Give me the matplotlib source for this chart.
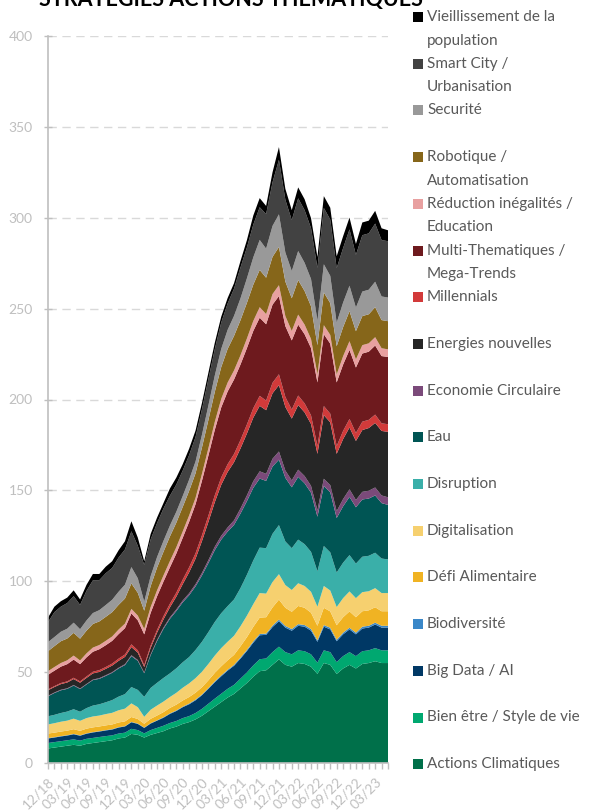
import matplotlib.pyplot as plt
import pandas as pd
from matplotlib.patches import Rectangle

plt.rcParams['font.family'] = ['Lato', 'DejaVu Sans']

# monthly points, 12/18 -> 05/23
months = pd.date_range('2018-12-01', periods=54, freq='MS')
month_labels = [d.strftime('%m/%y') for d in months]

# stack order, bottom -> top
actions_climatiques = [8, 8.5, 9, 9.5, 10, 9.5, 10.5, 11, 11.5, 12,
                       12.5, 13.5, 14, 16, 15.5, 14, 15.5, 16.5, 17.5, 19,
                       20, 21.5, 22.5, 24, 26, 28.5, 31, 33.5, 36, 38,
                       41, 44, 47.5, 50.5, 51, 54, 57, 54, 53, 55,
                       54.5, 53, 49, 55, 54, 49, 52, 54, 52, 54.5,
                       55, 56, 55, 55]
bien_etre = [3, 3, 3, 3, 3, 2.8, 2.8, 2.8, 2.8, 2.8,
             2.7, 2.7, 2.7, 2.8, 2.6, 2.3, 2.6, 2.8, 3, 3,
             3.1, 3.2, 3.3, 3.5, 3.8, 4.1, 4.4, 4.6, 4.8, 5,
             5.4, 5.8, 6.2, 6.6, 6.5, 7, 7, 7, 6.8, 7,
             7, 6.8, 6.2, 7, 7, 6.5, 6.8, 7, 6.8, 7,
             7, 7.2, 7, 7]
big_data = [2.5, 2.5, 2.6, 2.6, 2.8, 2.7, 2.8, 3, 3, 3.1,
            3.2, 3.3, 3.4, 3.6, 3.4, 3, 3.6, 4, 4.4, 5,
            5.5, 6, 6.5, 7, 7.5, 8.2, 9, 9.6, 10, 10.5,
            11, 11.8, 12.5, 13.2, 13, 13.8, 14, 13.5, 13, 13.5,
            13.5, 13, 11.5, 13, 12.5, 11.5, 12, 12.5, 12, 12.5,
            12.5, 13, 12.5, 12.5]
biodiversite = [0.2, 0.2, 0.2, 0.2, 0.2, 0.2, 0.2, 0.2, 0.2, 0.2,
                0.2, 0.2, 0.2, 0.2, 0.2, 0.2, 0.2, 0.2, 0.3, 0.3,
                0.3, 0.3, 0.4, 0.4, 0.4, 0.4, 0.5, 0.5, 0.5, 0.5,
                0.6, 0.6, 0.7, 0.7, 0.7, 0.8, 0.9, 0.9, 0.9, 0.9,
                0.9, 0.9, 0.8, 0.9, 0.9, 0.8, 0.9, 0.9, 0.9, 1,
                1, 1, 1, 1]
defi_alimentaire = [2.5, 2.5, 2.5, 2.5, 2.6, 2.5, 2.6, 2.6, 2.6, 2.6,
                    2.6, 2.6, 2.6, 2.7, 2.5, 2.1, 2.4, 2.6, 2.8, 3,
                    3.2, 3.4, 3.6, 3.8, 4, 4.3, 4.7, 5, 5.2, 5.5,
                    6.2, 7, 8, 9, 9, 10, 11, 10, 9.5, 10,
                    9.5, 9, 8, 9.5, 9, 8, 8.5, 9, 8.5, 8.5,
                    8.5, 8.5, 8, 8]
digitalisation = [5, 5.2, 5.4, 5.5, 5.8, 5.5, 5.8, 6, 6, 6.2,
                  6.4, 6.7, 7, 7.5, 6.5, 3.8, 5, 5.5, 5.8, 6,
                  6.5, 7, 7.5, 8, 8.5, 9, 9.5, 10, 10.2, 10.5,
                  11, 11.8, 12.5, 13.5, 13, 14, 14, 12.5, 12, 12.5,
                  12, 11.5, 10.5, 12, 11.5, 10, 10.5, 11, 10.5, 10.5,
                  10.5, 10.5, 10, 10]
disruption = [4.5, 4.6, 4.8, 5, 5.2, 5, 5.5, 6, 6.2, 6.5,
              7, 7.5, 8, 9, 9.5, 11, 12, 12.5, 13, 13,
              13.5, 14, 14.5, 15.5, 16.5, 17.5, 18.5, 19.2, 19.6, 20,
              21, 22.5, 24, 25, 25, 26.5, 27, 24, 23, 24,
              23, 22, 19.5, 22, 21, 19, 19.5, 20, 19, 19.5,
              19.5, 19.5, 19, 18.5]
eau = [11, 12, 12.5, 12.5, 13, 12.5, 13, 14, 14, 14.5,
       15, 15.5, 16, 17, 16, 13, 18, 23, 27, 30,
       31.5, 33, 34, 35, 36.5, 38, 39.5, 40.5, 41, 41,
       41, 40.5, 40, 38, 37, 37, 36, 35, 33.5, 34.5,
       33.5, 32.5, 30, 33, 33, 30, 31, 32, 31, 31.5,
       31.5, 31.5, 30.5, 30]
economie_circulaire = [0.3, 0.3, 0.3, 0.3, 0.3, 0.3, 0.3, 0.3, 0.4, 0.4,
                       0.4, 0.4, 0.5, 0.5, 0.5, 0.4, 0.5, 0.6, 0.7, 0.8,
                       0.9, 1, 1.1, 1.2, 1.4, 1.6, 1.9, 2.1, 2.3, 2.5,
                       2.8, 3.2, 3.6, 4, 3.9, 4.3, 4.5, 4, 3.8, 4,
                       4, 3.8, 3.6, 4, 4, 3.8, 4, 4.2, 4, 4.2,
                       4.3, 4.4, 4.2, 4.2]
energies_nouvelles = [3, 3, 3.1, 3.2, 3.3, 3.2, 3.3, 3.4, 3.4, 3.5,
                      3.6, 3.8, 4, 4.5, 4, 3, 3.5, 4, 4.5, 5.5,
                      7, 9, 11.5, 14, 17.5, 21, 24.5, 28, 30.5, 32,
                      33, 34, 35, 36, 35, 36, 36.5, 35, 34, 35.5,
                      35, 34, 31, 35, 34.5, 31.5, 33, 34, 32.5, 34,
                      34.5, 35.5, 35.5, 36]
millennials = [0.5, 0.5, 0.6, 0.6, 0.7, 0.7, 0.8, 0.9, 1, 1,
               1.1, 1.2, 1.3, 1.5, 1.3, 1, 1.3, 1.5, 1.8, 2,
               2.2, 2.5, 2.8, 3, 3.2, 3.5, 3.8, 4.1, 4.3, 4.5,
               4.7, 5, 5.2, 5.5, 5.3, 5.8, 6, 5.5, 5, 5.3,
               5, 4.8, 4.3, 5, 4.8, 4.3, 4.5, 4.7, 4.4, 4.6,
               4.5, 4.6, 4.2, 4.2]
multi_thematiques = [8, 8.5, 9, 9.5, 10, 9.5, 10.5, 11, 11.5, 12,
                     12.5, 13.5, 14.5, 17, 16.5, 17, 18, 18.5, 19, 20,
                     21.5, 23, 25, 27, 30, 33, 36, 38.5, 40, 41,
                     41.5, 42, 42.5, 43, 42, 43, 43, 39, 38, 39,
                     38, 37, 35, 39.5, 38.5, 35, 36.5, 38, 36, 37.5,
                     37.5, 38, 37, 37]
reduction_inegalites = [2, 2, 2, 2.1, 2.2, 2, 2.2, 2.3, 2.3, 2.4,
                        2.4, 2.5, 2.5, 2.5, 2.6, 3, 3.2, 3.3, 3.4, 3.5,
                        3.5, 3.5, 3.5, 3.5, 3.8, 4.1, 4.4, 4.7, 4.9, 5,
                        5.1, 5.3, 5.5, 5.8, 5.6, 5.8, 6, 5.5, 5.2, 5.5,
                        5.3, 5, 4.5, 5, 4.8, 4.4, 4.6, 4.8, 4.5, 4.6,
                        4.6, 4.6, 4.3, 4.2]
robotique = [11, 11.5, 12, 12, 12.5, 12, 12.5, 13, 13, 13.2,
             13.4, 13.6, 13.8, 14, 12.5, 10, 11.5, 12.5, 13, 13.5,
             13.5, 13.5, 13.5, 13.5, 14.5, 15.5, 16.5, 17.5, 18.5, 19,
             19.3, 19.6, 20, 20.5, 20, 20.5, 21, 19, 18, 19,
             18.5, 18, 16, 18, 17.5, 15.5, 16, 16.5, 15.5, 16,
             16, 16.5, 15.5, 15.5]
securite = [5, 5, 5.2, 5.4, 5.6, 5.2, 5.6, 6, 6.2, 6.5,
            6.8, 7.2, 7.6, 9, 8, 5, 5.5, 5.8, 6, 6,
            6, 6, 6.2, 6.5, 7, 8, 9, 10, 10.5, 11,
            12, 13.5, 15, 16.5, 16, 17, 18, 16, 15, 16,
            15.5, 15, 13.5, 15.5, 15, 13, 13.5, 14, 13, 13.5,
            13.5, 14, 13, 13]
smart_city = [11, 13.7, 13.8, 14.1, 14.6, 13.4, 16.3, 18, 16.5, 17.5,
              17.5, 18.8, 19.4, 19.7, 17.9, 20.2, 20.2, 18.7, 17.8, 16.4,
              15, 14, 13.5, 13.5, 14, 14.5, 14.5, 14.5, 14.5, 15,
              17, 17, 18, 18, 19, 24, 30, 29, 28, 29,
              29, 28, 29, 31, 31, 30, 30, 31, 29, 31,
              31, 32, 31, 31]
vieillissement = [2.5, 3, 3, 3, 3.2, 3, 3.3, 3.5, 3.4, 3.6,
                  3.7, 4, 4.5, 5.5, 4.5, 2, 3, 3, 3, 4,
                  3.8, 3.5, 3.5, 3.5, 3.5, 3.5, 3.5, 3.2, 3, 3,
                  3.5, 4, 5, 5, 4.5, 5.5, 7, 6, 5.5, 6,
                  6, 5.5, 6, 6.5, 6.5, 6.5, 6.5, 6.5, 6, 7,
                  7, 7, 6.5, 6]

series = [actions_climatiques, bien_etre, big_data, biodiversite, defi_alimentaire,
          digitalisation, disruption, eau, economie_circulaire, energies_nouvelles,
          millennials, multi_thematiques, reduction_inegalites, robotique, securite,
          smart_city, vieillissement]
labels = ['Actions Climatiques', 'Bien être / Style de vie', 'Big Data / AI', 'Biodiversité',
          'Défi Alimentaire', 'Digitalisation', 'Disruption', 'Eau', 'Economie Circulaire',
          'Energies nouvelles', 'Millennials', 'Multi-Thematiques /\nMega-Trends',
          'Réduction inégalités /\nEducation', 'Robotique /\nAutomatisation', 'Securité',
          'Smart City /\nUrbanisation', 'Vieillissement de la\npopulation']
colors = ['#00704A', '#00A870', '#003865', '#3A87C8', '#F0B323',
          '#F6D06F', '#3AAFA9', '#005554', '#7B4A7A', '#262626',
          '#D23A3A', '#6E1A1E', '#E8A0A0', '#86661A', '#999999',
          '#424242', '#000000']

W, H = 595, 810
fig = plt.figure(figsize=(W / 100, H / 100), dpi=100)
ax = fig.add_axes([48 / W, 1 - 763 / H, 340 / W, 727 / H])

x = list(range(len(months)))
ax.stackplot(x, *series, colors=colors, linewidth=0, zorder=2)

ax.set_xlim(0, len(x) - 1)
ax.set_ylim(0, 400)
ax.set_yticks(range(0, 401, 50))
ax.yaxis.grid(True, color='#D9D9D9', linestyle=(0, (6, 4)), linewidth=1, zorder=0)
ax.set_axisbelow(True)

ax.set_xticks(x)
ax.set_xticklabels([lab if i % 3 == 0 else '' for i, lab in enumerate(month_labels)],
                   rotation=45, ha='right', rotation_mode='anchor')
ax.tick_params(axis='x', colors='#BFBFBF', labelcolor='#BFBFBF', labelsize=10,
               length=4, width=1, pad=5)
ax.tick_params(axis='y', colors='#BFBFBF', labelcolor='#BFBFBF', labelsize=10,
               direction='inout', length=6, width=1, pad=8)

for side in ['top', 'right']:
    ax.spines[side].set_visible(False)
for side in ['left', 'bottom']:
    ax.spines[side].set_color('#BFBFBF')
    ax.spines[side].set_linewidth(1.2)

fig.text(231 / W, 1 - 6 / H, 'STRATEGIES ACTIONS THEMATIQUES', ha='center', va='baseline',
         fontsize=15.5, fontweight='bold', color='#000000')

# legend, top entry = top of the stack
step = 46.7
for k, (lab, col) in enumerate(zip(labels[::-1], colors[::-1])):
    yc = 17 + k * step
    fig.patches.append(Rectangle((413 / W, 1 - (yc + 5) / H), 10 / W, 10 / H,
                                 transform=fig.transFigure, facecolor=col, edgecolor='none'))
    for j, line in enumerate(lab.split('\n')):
        fig.text(427 / W, 1 - (yc + j * 23.5) / H, line, ha='left', va='center',
                 fontsize=11, color='#595959')

fig.savefig('out.png', dpi=100)
